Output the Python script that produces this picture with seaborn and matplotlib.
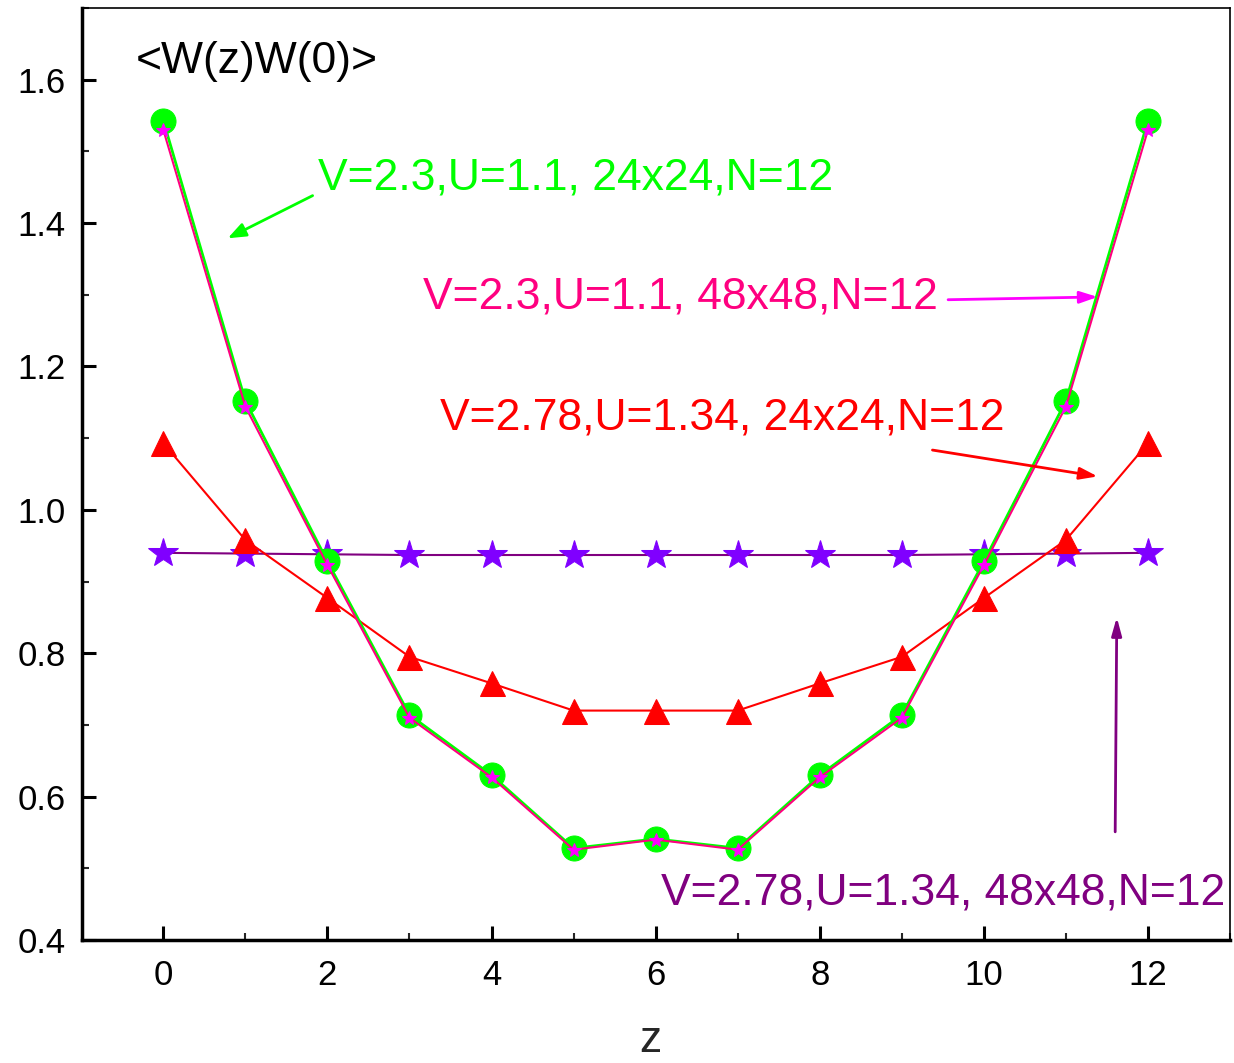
import matplotlib
matplotlib.use("Agg")
import matplotlib.pyplot as plt
import seaborn as sns
import numpy as np
import pandas as pd
from matplotlib.ticker import MultipleLocator

z = list(range(13))
green_24 = [1.543, 1.152, 0.928, 0.714, 0.630, 0.528, 0.541, 0.528, 0.630, 0.714, 0.928, 1.152, 1.543]
magenta_48 = [1.530, 1.144, 0.923, 0.710, 0.627, 0.526, 0.540, 0.526, 0.627, 0.710, 0.923, 1.144, 1.530]
red_24 = [1.093, 0.958, 0.877, 0.795, 0.758, 0.720, 0.720, 0.720, 0.758, 0.795, 0.877, 0.958, 1.093]
purple_48 = [0.940, 0.939, 0.938, 0.937, 0.937, 0.937, 0.937, 0.937, 0.937, 0.937, 0.938, 0.939, 0.940]

labels = ["V=2.3,U=1.1, 24x24,N=12", "V=2.3,U=1.1, 48x48,N=12",
          "V=2.78,U=1.34, 24x24,N=12", "V=2.78,U=1.34, 48x48,N=12"]
ytick_vals = [0.4, 0.6, 0.8, 1.0, 1.2, 1.4, 1.6]
ytick_labels = ["0.4", "0.6", "0.8", "1.0", "1.2", "1.4", "1.6"]

sns.set_theme(style="ticks")
plt.rcParams['font.family'] = ['Liberation Sans', 'DejaVu Sans']
plt.rcParams['xtick.direction'] = 'in'
plt.rcParams['ytick.direction'] = 'in'

fig = plt.figure(figsize=(12.34, 10.63), dpi=100)
ax = fig.add_axes([0.0665, 0.1157, 0.9303, 0.8768])

df = pd.DataFrame({"z": z, "g": green_24, "m": magenta_48, "r": red_24, "p": purple_48})

sns.lineplot(data=df, x="z", y="p", ax=ax, color="#800080", lw=1.5, marker="*",
             markersize=22, markerfacecolor="#8000FF", markeredgecolor="#8000FF")
sns.lineplot(data=df, x="z", y="r", ax=ax, color="#FF0000", lw=1.5, marker="^",
             markersize=18, markerfacecolor="#FF0000", markeredgecolor="#FF0000")
sns.lineplot(data=df, x="z", y="g", ax=ax, color="#00FF00", lw=2, marker="o",
             markersize=18, markerfacecolor="#00FF00", markeredgecolor="#00FF00")
sns.lineplot(data=df, x="z", y="m", ax=ax, color="#FF0080", lw=1.5, marker="*",
             markersize=10, markerfacecolor="#FF00FF", markeredgecolor="#FF00FF")

ax.set_xlim(-0.99, 13.0)
ax.set_ylim(0.4, 1.7)
ax.xaxis.set_major_locator(MultipleLocator(2))
ax.xaxis.set_minor_locator(MultipleLocator(1))
ax.yaxis.set_minor_locator(MultipleLocator(0.1))
ax.set_yticks(ytick_vals)
ax.set_yticklabels(ytick_labels)
ax.tick_params(axis='both', which='major', length=10, width=2.2, labelsize=25, colors='black')
ax.tick_params(axis='y', which='major', pad=12)
ax.tick_params(axis='x', which='major', pad=14)
ax.tick_params(axis='both', which='minor', length=5, width=1.5)
ax.tick_params(axis='x', which='both', top=False)
ax.tick_params(axis='y', which='both', right=False)

for s in ['left', 'bottom']:
    ax.spines[s].set_linewidth(2.5)
    ax.spines[s].set_color('black')
for s in ['top', 'right']:
    ax.spines[s].set_linewidth(1.2)
    ax.spines[s].set_color('black')
    ax.spines[s].set_visible(True)

ax.set_xlabel("z", fontsize=32)
ax.xaxis.set_label_coords(0.4948, -0.1200)
ax.xaxis.label.set_va('baseline')
ax.set_ylabel("")

ax.text(-0.34, 1.625, "<W(z)W(0)>", fontsize=32, va='center', ha='left', color='black')

fs = 32
ax.annotate("", xy=(0.755, 1.377), xytext=(1.85, 1.44),
            arrowprops=dict(arrowstyle="-|>,head_length=0.9,head_width=0.35", color="#00FF00", lw=2))
ax.text(1.89, 1.463, labels[0], fontsize=fs, color="#00FF00", va='center', ha='left')

ax.annotate("", xy=(11.42, 1.297), xytext=(9.53, 1.293),
            arrowprops=dict(arrowstyle="-|>,head_length=0.9,head_width=0.3", color="#FF00FF", lw=2))
ax.text(3.17, 1.297, labels[1], fontsize=fs, color="#FF0080", va='center', ha='left')

ax.annotate("", xy=(11.42, 1.046), xytext=(9.34, 1.084),
            arrowprops=dict(arrowstyle="-|>,head_length=0.9,head_width=0.3", color="#FF0000", lw=2))
ax.text(3.37, 1.128, labels[2], fontsize=fs, color="#FF0000", va='center', ha='left')

ax.annotate("", xy=(11.62, 0.854), xytext=(11.60, 0.547),
            arrowprops=dict(arrowstyle="-|>,head_length=0.9,head_width=0.25", color="#800080", lw=2))
ax.text(6.06, 0.466, labels[3], fontsize=fs, color="#800080", va='center', ha='left')

fig.savefig("out.png", dpi=100)
